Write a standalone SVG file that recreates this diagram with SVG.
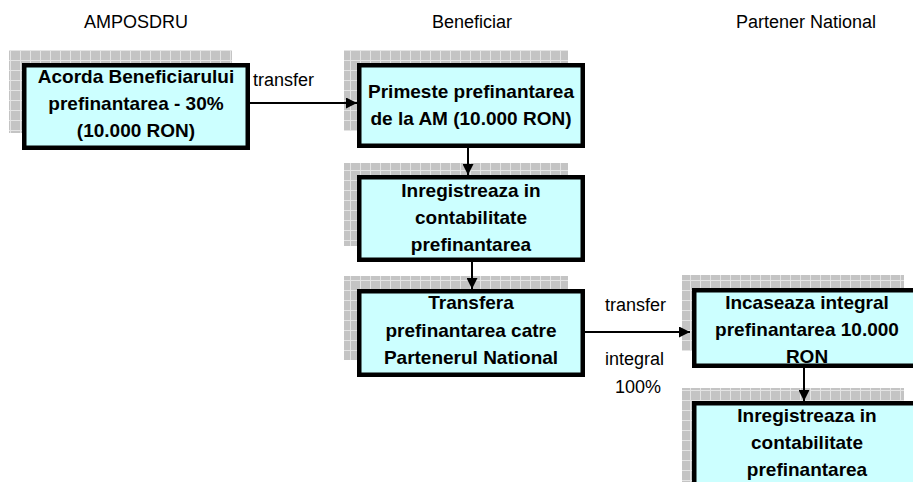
<svg xmlns="http://www.w3.org/2000/svg" width="913" height="482" viewBox="0 0 913 482">
  <defs>
    <pattern id="grid" width="10" height="10" patternUnits="userSpaceOnUse">
      <rect width="10" height="10" fill="#c4c4c4"/>
      <path d="M0 0.5H10M0.5 0V10" stroke="#e4e4e4" stroke-width="1"/>
    </pattern>
    <marker id="arr" viewBox="0 0 10 10" refX="10" refY="5" markerWidth="6" markerHeight="5.5" orient="auto" markerUnits="strokeWidth">
      <path d="M0 0L10 5L0 10z" fill="#000"/>
    </marker>
    <style>
      .shadow{fill:url(#grid);}
      .box{fill:#ccffff;stroke:#000;stroke-width:4.5;}
      .t{font-family:"Liberation Sans",Arial,sans-serif;font-size:19px;font-weight:bold;fill:#000;text-anchor:middle;}
      .h{font-family:"Liberation Sans",Arial,sans-serif;font-size:18px;fill:#000;text-anchor:middle;}
      .lbl{font-family:"Liberation Sans",Arial,sans-serif;font-size:18px;fill:#000;}
      .c{stroke:#000;stroke-width:2;fill:none;marker-end:url(#arr);}
    </style>
  </defs>
  <rect width="913" height="482" fill="#fff"/>

  <g id="headers">
    <text class="h" x="136" y="28">AMPOSDRU</text>
    <text class="h" x="472" y="28">Beneficiar</text>
    <text class="h" x="806" y="28">Partener National</text>
  </g>

  <g id="n1">
    <rect class="shadow" x="9" y="50" width="223" height="83"/>
    <rect class="box" x="24.25" y="65.25" width="223.5" height="82.5"/>
    <text class="t" x="136" y="83">Acorda Beneficiarului</text>
    <text class="t" x="136" y="110">prefinantarea - 30%</text>
    <text class="t" x="136" y="137">(10.000 RON)</text>
  </g>

  <g id="n2">
    <rect class="shadow" x="344" y="50" width="224" height="81"/>
    <rect class="box" x="359.25" y="65.25" width="223.5" height="80.5"/>
    <text class="t" x="471" y="98">Primeste prefinantarea</text>
    <text class="t" x="471" y="125">de la AM (10.000 RON)</text>
  </g>

  <g id="n3">
    <rect class="shadow" x="344" y="163" width="224" height="83"/>
    <rect class="box" x="359.25" y="177.25" width="223.5" height="82.5"/>
    <text class="t" x="471" y="197">Inregistreaza in</text>
    <text class="t" x="471" y="224">contabilitate</text>
    <text class="t" x="471" y="251">prefinantarea</text>
  </g>

  <g id="n4">
    <rect class="shadow" x="344" y="276" width="224" height="84"/>
    <rect class="box" x="359.25" y="291.25" width="223.5" height="83.5"/>
    <text class="t" x="471" y="309">Transfera</text>
    <text class="t" x="471" y="337">prefinantarea catre</text>
    <text class="t" x="471" y="364">Partenerul National</text>
  </g>

  <g id="n5">
    <rect class="shadow" x="682" y="275" width="222" height="76"/>
    <rect class="box" x="694.25" y="290.25" width="225" height="75.5"/>
    <text class="t" x="807" y="309">Incaseaza integral</text>
    <text class="t" x="807" y="336">prefinantarea 10.000</text>
    <text class="t" x="807" y="363">RON</text>
  </g>

  <g id="n6">
    <rect class="shadow" x="682" y="388" width="222" height="100"/>
    <rect class="box" x="694.25" y="403.25" width="225" height="100"/>
    <text class="t" x="807" y="422">Inregistreaza in</text>
    <text class="t" x="807" y="449">contabilitate</text>
    <text class="t" x="807" y="476">prefinantarea</text>
  </g>

  <g id="connectors">
    <line class="c" x1="250" y1="103" x2="357" y2="103"/>
    <line class="c" x1="468" y1="148" x2="468" y2="175"/>
    <line class="c" x1="472" y1="262" x2="472" y2="289"/>
    <line class="c" x1="585" y1="332" x2="690" y2="332"/>
    <line class="c" x1="804" y1="368" x2="804" y2="401"/>
    <text class="lbl" x="253" y="86">transfer</text>
    <text class="lbl" x="605" y="311">transfer</text>
    <text class="lbl" x="605" y="365">integral</text>
    <text class="lbl" x="615" y="393">100%</text>
  </g>
</svg>
